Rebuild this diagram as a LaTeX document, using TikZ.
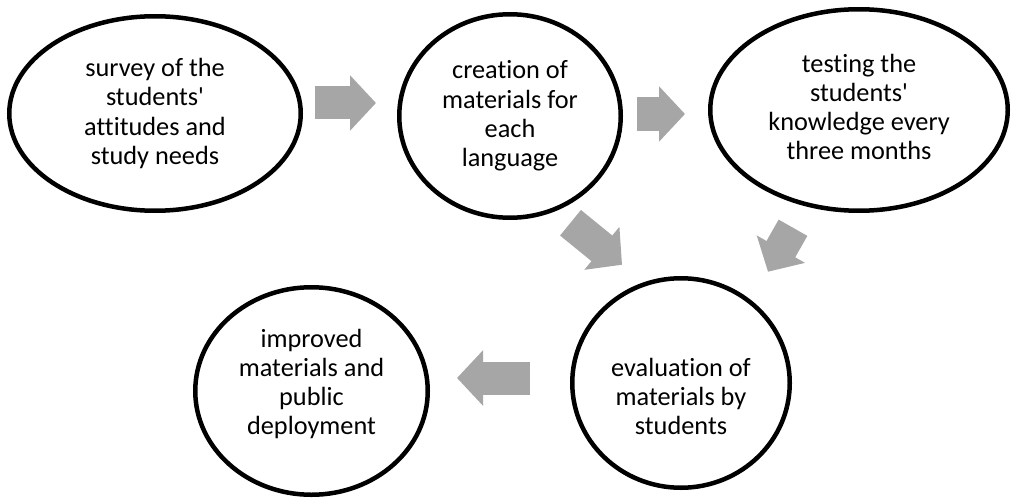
\documentclass[tikz,border=0pt]{standalone}
\usepackage{fontspec}
\setmainfont[Ligatures={NoCommon}]{Carlito}
\usetikzlibrary{shapes.geometric,arrows.meta}
\definecolor{arrowgray}{RGB}{166,166,166}
\begin{document}
\begin{tikzpicture}[x=1pt,y=-1pt,
    bubble/.style={ellipse,draw=black,line width=4.5pt,inner sep=0pt},
    words/.style={align=center,inner sep=0pt,font=\fontsize{26.3}{29.3}\selectfont},
    fatarrow/.style={arrowgray,line width=33pt,-{Triangle[length=26pt,width=54pt]}}]
    \useasboundingbox (0,0) rectangle (1011,500);
    % the five steps
    \node[bubble,minimum width=291.5pt,minimum height=194.5pt,
        label={[words]center:survey of the\\students\textquotesingle\\attitudes and\\study needs}] (survey) at (155,113.5) {};
    \node[bubble,minimum width=221.5pt,minimum height=203.5pt,
        label={[words]center:creation of\\materials for\\each\\language}] (creation) at (510,116) {};
    \node[bubble,minimum width=297.5pt,minimum height=201.5pt,
        label={[words,yshift=3pt]center:testing the\\students\textquotesingle\\knowledge every\\three months}] (testing) at (859,110) {};
    \node[bubble,minimum width=217.5pt,minimum height=209.5pt,
        label={[words,yshift=-13.5pt]center:evaluation of\\materials by\\students}] (evaluation) at (681,383) {};
    \node[bubble,minimum width=232.5pt,minimum height=207.5pt,
        label={[words,yshift=7pt]center:improved\\materials and\\public\\deployment}] (improved) at (311.5,391) {};
    % block arrows
    \draw[fatarrow] ([xshift=12pt,yshift=10.5pt]survey.east) -- ([xshift=-21pt,yshift=13pt]creation.west);
    \draw[fatarrow] ([xshift=14pt,yshift=2pt]creation.east) -- ([xshift=-23pt,yshift=-4pt]testing.west);
    \draw[fatarrow] ([xshift=60.5pt,yshift=-2.75pt]creation.south) -- ([xshift=-59pt,yshift=11.25pt]evaluation.north);
    \draw[fatarrow] ([xshift=-66pt,yshift=-14.75pt]testing.south) -- ([xshift=87pt,yshift=4.25pt]evaluation.north);
    \draw[fatarrow] ([xshift=-40pt,yshift=5pt]evaluation.west) -- ([xshift=27pt,yshift=13pt]improved.east);
\end{tikzpicture}
\end{document}
